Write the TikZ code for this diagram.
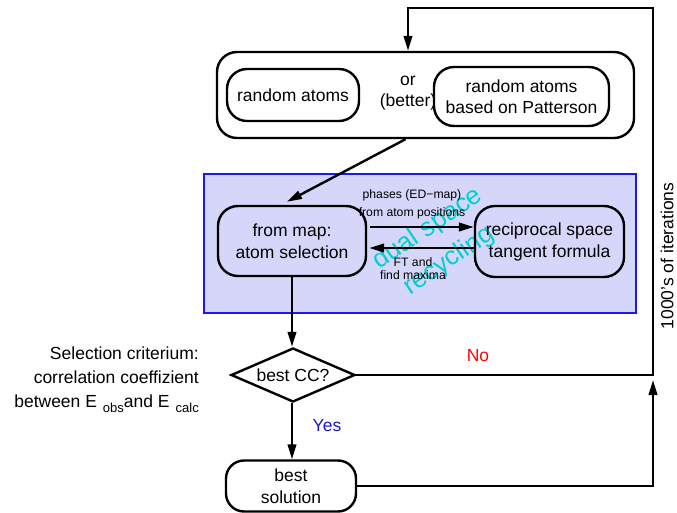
\documentclass[tikz,border=0pt]{standalone}
\usepackage{fontspec}
\setmainfont{Liberation Sans}
\usetikzlibrary{arrows.meta,shapes.geometric,calc}
\definecolor{bluefill}{RGB}{214,214,250}
\definecolor{bluebord}{RGB}{25,25,240}
\definecolor{cyantext}{RGB}{0,208,208}
\definecolor{yesblue}{RGB}{25,25,200}
\begin{document}
\begin{tikzpicture}[x=1pt,y=-1pt,
  box/.style={draw,line width=2.4pt,rounded corners=20pt,align=center,inner sep=0pt,font=\fontsize{17.5}{22}\selectfont},
  lbl/.style={align=center,inner sep=0pt,font=\fontsize{17.5}{21}\selectfont},
  small/.style={align=center,inner sep=0pt},
  conn/.style={line width=2.4pt},
  arr/.style={conn,-{Triangle[length=15pt,width=8.5pt]}},
  cyanlbl/.style={text=cyantext,rotate=34,inner sep=0pt,font=\fontsize{26}{26}\selectfont},
]
\useasboundingbox (0,0) rectangle (677,513);

% blue background region
\path[fill=bluefill,draw=bluebord,line width=1.3pt] (204,174) rectangle (636,313);

% top group
\node[box,minimum width=417pt,minimum height=86pt] (outer) at (425.5,95) {};
\node[box,minimum width=132pt,minimum height=52pt] (ra1) at (293,95) {random atoms};
\node[lbl] (orb) at (408,93) {or\\(better)};
\node[box,minimum width=175pt,minimum height=59pt,font=\fontsize{17.5}{21}\selectfont] (ra2) at (521.5,96.5) {random atoms\\based on Patterson};

% dual space group
\node[cyanlbl] (dual) at (428,229) {dual space};
\node[cyanlbl] (recy) at (449,261) {recycling};

\node[box,minimum width=148pt,minimum height=70pt] (map) at (292,241) {from map:\\atom selection};
\node[box,minimum width=149pt,minimum height=71pt] (rec) at (549.5,241.5) {reciprocal space\\tangent formula};

\draw[arr] ($(map.east)+(3,-14)$) -- ($(rec.west)+(0,-14.5)$);
\draw[arr] ($(rec.west)+(0,6.5)$) -- ($(map.east)+(2,7)$);
\node[small,font=\fontsize{12.2}{18}\selectfont] (ph) at (412,204) {phases (ED\textminus map)\\from atom positions};
\node[small,font=\fontsize{12.2}{13.5}\selectfont] (ft) at (413,268.5) {FT and\\find maxima};

% decision
\node[draw,line width=2.4pt,diamond,aspect=2.3,minimum width=124pt,minimum height=54pt,inner sep=0pt,font=\fontsize{17.5}{21}\selectfont] (dia) at (293,375) {best CC?};
\node[box,rounded corners=18pt,minimum width=130pt,minimum height=51pt] (best) at (291,486) {best\\solution};

\node[lbl,align=right,anchor=east,font=\fontsize{17.5}{24}\selectfont] (crit) at (199,380)
  {Selection criterium:\\correlation coeffizient\\between E\hspace{6pt}{\raisebox{-5pt}{\fontsize{13}{13}\selectfont obs}}and E\hspace{6pt}{\raisebox{-5pt}{\fontsize{13}{13}\selectfont calc}}};

\node[lbl,text=red] (no) at (478,356) {No};
\node[lbl,text=yesblue] (yes) at (327,426) {Yes};
\node[lbl,rotate=90] (iter) at (667,256) {1000's of iterations};

% connectors
\coordinate (tr) at (653,8);
\coordinate (tl) at (408,8);
\coordinate (rb) at (653,380);
\draw[arr] ($(outer.south)+(-20,0)$) -- ($(map.north)+(-5,-3)$);
\draw[arr] (map.south) -- (map.south |- dia.north);
\draw[arr] (map.south |- dia.south) -- (map.south |- best.north);
\draw[arr] (dia.east) -| (tr) -- (tl) -- (tl |- outer.north);
\draw[arr] (best.east) -| (rb);
\end{tikzpicture}
\end{document}
